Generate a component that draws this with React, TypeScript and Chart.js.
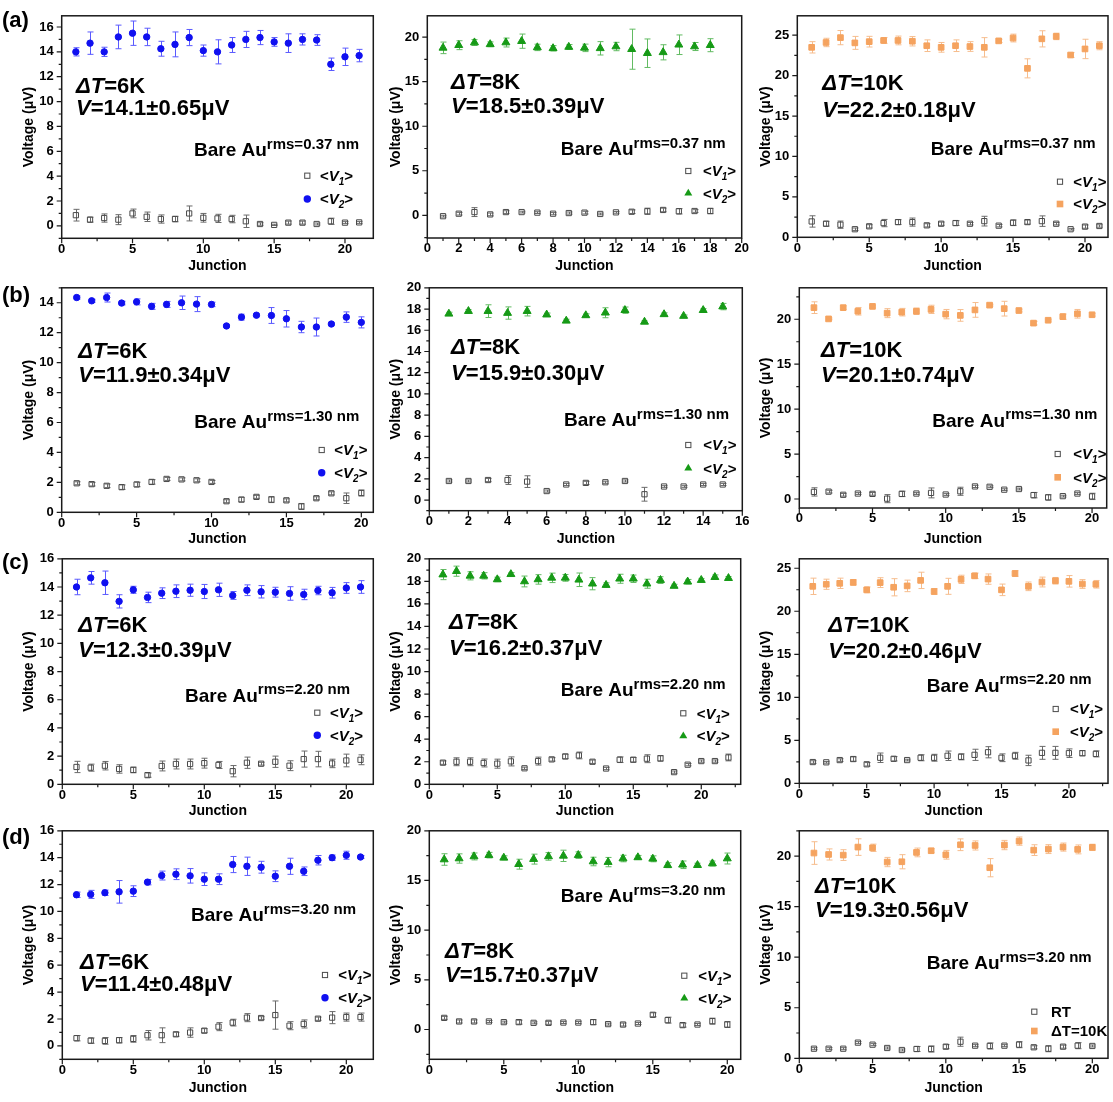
import React, { useEffect, useRef } from 'react';
import { Chart, registerables } from 'chart.js';

Chart.register(...registerables);

const FONT = "'Liberation Sans', Arial, Helvetica, sans-serif";

// ---------------- tick labels ----------------
const xTicksBy5 = [0, 5, 10, 15, 20];
const xTicksBy2To20 = [0, 2, 4, 6, 8, 10, 12, 14, 16, 18, 20];
const xTicksBy2To16 = [0, 2, 4, 6, 8, 10, 12, 14, 16];
const yTicksBy2To16 = [0, 2, 4, 6, 8, 10, 12, 14, 16];
const yTicksBy2To14 = [0, 2, 4, 6, 8, 10, 12, 14];
const yTicksBy2To20 = [0, 2, 4, 6, 8, 10, 12, 14, 16, 18, 20];
const yTicksBy5To20 = [0, 5, 10, 15, 20];
const yTicksBy5To25 = [0, 5, 10, 15, 20, 25];

// ---------------- data: row (a), rms = 0.37 nm ----------------
const a1V1 = [0.86, 0.5, 0.63, 0.5, 1.0, 0.73, 0.55, 0.55, 1.0, 0.65, 0.6, 0.55, 0.37, 0.15, 0.08, 0.26, 0.26, 0.15, 0.37, 0.26, 0.28];
const a1E1 = [0.47, 0.2, 0.33, 0.4, 0.35, 0.38, 0.33, 0.22, 0.6, 0.35, 0.33, 0.3, 0.5, 0.1, 0.05, 0.12, 0.12, 0.08, 0.25, 0.08, 0.08];
const a1V2 = [14.0, 14.7, 14.0, 15.2, 15.5, 15.2, 14.25, 14.6, 15.15, 14.1, 14.0, 14.55, 15.0, 15.15, 14.8, 14.7, 15.0, 14.95, 13.0, 13.6, 13.7];
const a1E2 = [0.33, 0.9, 0.37, 0.95, 0.98, 0.7, 0.6, 1.0, 0.65, 0.45, 0.97, 0.6, 0.65, 0.57, 0.35, 0.75, 0.45, 0.43, 0.5, 0.7, 0.5];

const a2V1 = [-0.1, 0.18, 0.36, 0.1, 0.36, 0.36, 0.3, 0.18, 0.25, 0.3, 0.15, 0.33, 0.4, 0.45, 0.6, 0.45, 0.48, 0.48];
const a2E1 = [0.1, 0.15, 0.5, 0.15, 0.15, 0.1, 0.1, 0.12, 0.12, 0.15, 0.1, 0.1, 0.2, 0.35, 0.2, 0.3, 0.15, 0.3];
const a2V2 = [18.8, 19.1, 19.4, 19.2, 19.4, 19.55, 18.85, 18.75, 18.9, 18.8, 18.75, 18.95, 18.65, 18.2, 18.3, 19.15, 18.95, 19.1];
const a2E2 = [0.65, 0.5, 0.33, 0.27, 0.5, 0.8, 0.36, 0.3, 0.27, 0.42, 0.75, 0.47, 2.25, 1.6, 0.85, 1.1, 0.45, 0.73];

const a3V1 = [1.96, 1.68, 1.56, 1.0, 1.36, 1.76, 1.88, 1.88, 1.48, 1.68, 1.76, 1.68, 2.0, 1.44, 1.8, 1.88, 2.0, 1.68, 1.0, 1.32, 1.4];
const a3E1 = [0.7, 0.3, 0.45, 0.15, 0.2, 0.45, 0.3, 0.5, 0.2, 0.2, 0.3, 0.15, 0.6, 0.15, 0.35, 0.25, 0.65, 0.15, 0.1, 0.2, 0.15];
const a3V2 = [23.5, 24.1, 24.7, 24.05, 24.2, 24.35, 24.35, 24.25, 23.7, 23.5, 23.7, 23.6, 23.5, 24.3, 24.65, 20.9, 24.55, 24.85, 22.55, 23.3, 23.7];
const a3E2 = [0.7, 0.52, 0.88, 0.8, 0.66, 0.36, 0.54, 0.58, 0.72, 0.6, 0.72, 0.6, 1.2, 0.2, 0.48, 1.18, 1.0, 0.4, 0.3, 1.2, 0.5];

// ---------------- data: row (b), rms = 1.30 nm ----------------
const b1V1 = [1.94, 1.88, 1.77, 1.68, 1.86, 2.03, 2.23, 2.2, 2.14, 2.03, 0.74, 0.85, 1.03, 0.85, 0.8, 0.39, 0.94, 1.27, 0.94, 1.29];
const b1E1 = [0.1, 0.12, 0.12, 0.15, 0.15, 0.15, 0.1, 0.1, 0.1, 0.1, 0.1, 0.15, 0.1, 0.2, 0.1, 0.2, 0.1, 0.1, 0.35, 0.2];
const b1V2 = [14.35, 14.13, 14.35, 13.98, 14.06, 13.76, 13.89, 14.0, 13.91, 13.89, 12.45, 13.04, 13.17, 13.15, 12.93, 12.38, 12.38, 12.58, 13.04, 12.69];
const b1E2 = [0.1, 0.1, 0.3, 0.12, 0.2, 0.2, 0.2, 0.45, 0.5, 0.15, 0.1, 0.2, 0.1, 0.53, 0.55, 0.38, 0.6, 0.1, 0.35, 0.37];

const b2V1 = [1.8, 1.8, 1.89, 1.89, 1.74, 0.85, 1.47, 1.62, 1.68, 1.8, 0.55, 1.28, 1.28, 1.47, 1.47];
const b2E1 = [0.1, 0.1, 0.15, 0.42, 0.55, 0.1, 0.1, 0.15, 0.1, 0.1, 0.65, 0.08, 0.08, 0.1, 0.1];
const b2V2 = [17.55, 17.8, 17.8, 17.62, 17.8, 17.47, 16.89, 17.4, 17.65, 17.89, 16.79, 17.5, 17.34, 17.89, 18.23];
const b2E2 = [0.15, 0.15, 0.6, 0.58, 0.45, 0.15, 0.15, 0.15, 0.47, 0.3, 0.1, 0.15, 0.1, 0.15, 0.3];

const b3V1 = [0.79, 0.82, 0.47, 0.61, 0.57, 0.04, 0.57, 0.61, 0.68, 0.5, 0.86, 1.4, 1.36, 1.04, 1.11, 0.43, 0.18, 0.32, 0.61, 0.29];
const b3E1 = [0.46, 0.15, 0.15, 0.1, 0.15, 0.45, 0.3, 0.1, 0.55, 0.1, 0.45, 0.12, 0.1, 0.1, 0.1, 0.3, 0.3, 0.1, 0.1, 0.35];
const b3V2 = [21.29, 20.04, 21.29, 20.89, 21.43, 20.68, 20.79, 20.89, 21.1, 20.57, 20.43, 21.04, 21.57, 21.18, 20.97, 19.57, 19.89, 20.29, 20.61, 20.5];
const b3E2 = [0.65, 0.1, 0.2, 0.42, 0.1, 0.5, 0.42, 0.36, 0.46, 0.52, 0.65, 0.82, 0.1, 0.82, 0.15, 0.2, 0.1, 0.3, 0.48, 0.15];

// ---------------- data: row (c), rms = 2.20 nm ----------------
const c1V1 = [1.23, 1.18, 1.32, 1.09, 1.02, 0.65, 1.3, 1.44, 1.44, 1.5, 1.37, 0.93, 1.53, 1.46, 1.6, 1.32, 1.79, 1.79, 1.48, 1.69, 1.74];
const c1E1 = [0.4, 0.25, 0.3, 0.3, 0.2, 0.15, 0.35, 0.35, 0.35, 0.35, 0.25, 0.4, 0.4, 0.1, 0.4, 0.35, 0.57, 0.55, 0.3, 0.45, 0.35];
const c1V2 = [14.0, 14.65, 14.3, 12.98, 13.8, 13.26, 13.56, 13.7, 13.77, 13.68, 13.8, 13.4, 13.77, 13.66, 13.63, 13.54, 13.47, 13.75, 13.59, 13.93, 14.0];
const c1E2 = [0.55, 0.45, 0.83, 0.47, 0.25, 0.37, 0.38, 0.45, 0.43, 0.5, 0.47, 0.28, 0.38, 0.44, 0.35, 0.48, 0.37, 0.3, 0.38, 0.38, 0.45];

const c2V1 = [1.92, 2.0, 2.0, 1.89, 1.83, 2.03, 1.42, 2.06, 2.21, 2.47, 2.56, 2.0, 1.4, 2.18, 2.18, 2.27, 2.3, 1.08, 1.74, 2.06, 2.06, 2.38];
const c2E1 = [0.15, 0.35, 0.35, 0.35, 0.4, 0.4, 0.1, 0.35, 0.15, 0.2, 0.3, 0.15, 0.1, 0.25, 0.2, 0.35, 0.25, 0.1, 0.1, 0.1, 0.1, 0.3];
const c2V2 = [18.6, 18.9, 18.49, 18.49, 18.17, 18.63, 17.99, 18.17, 18.31, 18.31, 18.14, 17.79, 17.67, 18.23, 18.23, 17.79, 18.11, 17.59, 17.97, 18.11, 18.37, 18.28];
const c2E2 = [0.45, 0.45, 0.36, 0.28, 0.2, 0.15, 0.48, 0.42, 0.42, 0.3, 0.6, 0.54, 0.2, 0.4, 0.33, 0.4, 0.3, 0.15, 0.2, 0.15, 0.2, 0.15];

const c3V1 = [2.47, 2.44, 2.7, 2.82, 2.21, 2.97, 2.85, 2.7, 2.97, 2.97, 3.2, 3.08, 3.31, 3.61, 2.97, 3.2, 2.66, 3.54, 3.54, 3.5, 3.5, 3.42];
const c3E1 = [0.15, 0.1, 0.15, 0.25, 0.2, 0.55, 0.25, 0.1, 0.35, 0.4, 0.55, 0.35, 0.65, 0.65, 0.45, 0.4, 0.6, 0.75, 0.75, 0.5, 0.3, 0.35];
const c3V2 = [22.9, 23.14, 23.25, 23.36, 22.49, 23.33, 22.79, 22.95, 23.59, 22.3, 22.9, 23.71, 24.12, 23.74, 22.49, 24.39, 22.9, 23.4, 23.55, 23.48, 23.17, 23.14];
const c3E2 = [0.95, 0.59, 0.6, 0.32, 0.34, 0.57, 1.0, 0.67, 0.95, 0.34, 0.93, 0.48, 0.32, 0.6, 0.67, 0.34, 0.5, 0.57, 0.38, 0.67, 0.51, 0.44];

// ---------------- data: row (d), rms = 3.20 nm ----------------
const d1V1 = [0.57, 0.39, 0.37, 0.42, 0.52, 0.79, 0.79, 0.86, 0.99, 1.13, 1.43, 1.73, 2.1, 2.07, 2.29, 1.5, 1.63, 2.02, 2.1, 2.14, 2.14];
const d1E1 = [0.2, 0.2, 0.25, 0.2, 0.25, 0.35, 0.55, 0.15, 0.35, 0.15, 0.3, 0.25, 0.3, 0.1, 1.05, 0.3, 0.3, 0.12, 0.45, 0.3, 0.3];
const d1V2 = [11.24, 11.27, 11.39, 11.46, 11.51, 12.18, 12.67, 12.77, 12.65, 12.4, 12.4, 13.49, 13.36, 13.29, 12.62, 13.36, 12.99, 13.81, 14.0, 14.18, 14.05];
const d1E2 = [0.2, 0.3, 0.2, 0.84, 0.4, 0.2, 0.33, 0.4, 0.54, 0.47, 0.4, 0.6, 0.68, 0.44, 0.4, 0.6, 0.32, 0.35, 0.2, 0.3, 0.1];

const d2V1 = [1.17, 0.81, 0.81, 0.81, 0.74, 0.74, 0.67, 0.67, 0.7, 0.7, 0.74, 0.54, 0.5, 0.6, 1.48, 0.94, 0.44, 0.5, 0.84, 0.5];
const d2E1 = [0.15, 0.15, 0.15, 0.1, 0.1, 0.2, 0.1, 0.15, 0.1, 0.1, 0.25, 0.1, 0.15, 0.1, 0.2, 0.3, 0.2, 0.1, 0.3, 0.3];
const d2V2 = [17.11, 17.21, 17.42, 17.55, 17.28, 16.64, 17.15, 17.42, 17.48, 17.55, 16.91, 16.85, 17.21, 17.32, 17.18, 16.54, 16.58, 16.54, 16.71, 17.21];
const d2E2 = [0.58, 0.47, 0.35, 0.28, 0.2, 0.5, 0.5, 0.38, 0.57, 0.33, 0.43, 0.47, 0.33, 0.2, 0.3, 0.25, 0.38, 0.2, 0.25, 0.55];

const d3V1 = [0.95, 0.95, 0.95, 1.55, 1.35, 1.02, 0.82, 0.92, 0.92, 1.15, 1.64, 1.25, 1.22, 1.25, 1.35, 1.09, 0.95, 1.15, 1.25, 1.22];
const d3E1 = [0.1, 0.1, 0.1, 0.1, 0.1, 0.1, 0.1, 0.25, 0.3, 0.2, 0.45, 0.1, 0.3, 0.1, 0.3, 0.15, 0.3, 0.15, 0.3, 0.1];
const d3V2 = [20.3, 20.16, 20.1, 20.89, 20.82, 19.41, 19.44, 20.36, 20.53, 20.13, 21.12, 21.05, 18.85, 21.09, 21.48, 20.59, 20.69, 20.89, 20.66, 20.86];
const d3E2 = [1.12, 0.55, 0.53, 0.82, 0.36, 0.46, 0.7, 0.43, 0.2, 0.43, 0.58, 0.45, 0.9, 0.46, 0.41, 0.53, 0.44, 0.4, 0.44, 0.31];

// ---------------- styling ----------------
type Kind = 'circle' | 'triangle' | 'rect';
const KIND_STYLE: Record<Kind, { color: string; err: string; radius: number }> = {
  circle: { color: '#1010f0', err: '#5a5aff', radius: 3.2 },
  triangle: { color: '#169a16', err: '#62bb62', radius: 4.6 },
  rect: { color: '#f5a35f', err: '#f6bd8e', radius: 4.0 },
};
const V1_COLOR = '#4a4a4a';
const V1_ERR = '#6a6a6a';
const TICK_SIZE = 13;
const X_TITLE_SIZE = 14;
const Y_TITLE_SIZE = 14;
const ANNOT_SIZE = 22;

interface Spec {
  cell: [number, number, number, number];
  plot: [number, number, number, number];
  yTitleX: number;
  xTitleY: number;
  xRange: [number, number];
  yRange: [number, number];
  xTicks: number[];
  yTicks: number[];
  v1: number[]; e1: number[]; v2: number[]; e2: number[];
  kind: Kind;
  dT: string; vText: string; rms: string;
  dTPos: [number, number]; vPos: [number, number]; barePos: [number, number];
  leg: [number, number, number, number];
  legendLabels?: [string, string];
  panelLabel?: [string, number, number];
}

const C1: [number, number] = [0, 378];
const C2: [number, number] = [374, 384];
const C3: [number, number] = [744, 369];
const RA: [number, number] = [0, 277];
const RB: [number, number] = [272, 275];
const RC: [number, number] = [543, 276];
const RD: [number, number] = [815, 287];
const cell = (c: [number, number], r: [number, number]): [number, number, number, number] => [c[0], r[0], c[1], r[1]];

const specs: Spec[] = [
  {
    cell: cell(C1, RA), plot: [61.7, 9.3, 375, 238.3], yTitleX: 29, xTitleY: 265.7,
    xRange: [0, 22], yRange: [-1.0, 16.9], xTicks: xTicksBy5, yTicks: yTicksBy2To16,
    v1: a1V1, e1: a1E1, v2: a1V2, e2: a1E2, kind: 'circle',
    dT: '6K', vText: '14.1±0.65μV', rms: '0.37', dTPos: [76, 92.7], vPos: [76, 115], barePos: [194, 156],
    leg: [307.3, 175.7, 199, 320], panelLabel: ['(a)', 2, 27],
  },
  {
    cell: cell(C2, RA), plot: [427.3, 9.3, 741.7, 238], yTitleX: 396, xTitleY: 265.7,
    xRange: [0, 20], yRange: [-2.55, 22.4], xTicks: xTicksBy2To20, yTicks: yTicksBy5To20,
    v1: a2V1, e1: a2E1, v2: a2V2, e2: a2E2, kind: 'triangle',
    dT: '8K', vText: '18.5±0.39μV', rms: '0.37', dTPos: [451, 89.3], vPos: [451, 113.3], barePos: [560.7, 155.3],
    leg: [688.3, 171, 193.3, 703],
  },
  {
    cell: cell(C3, RA), plot: [797.3, 9.3, 1110.7, 237.3], yTitleX: 766, xTitleY: 265.7,
    xRange: [0, 21.6], yRange: [0, 27.4], xTicks: xTicksBy5, yTicks: yTicksBy5To25,
    v1: a3V1, e1: a3E1, v2: a3V2, e2: a3E2, kind: 'rect',
    dT: '10K', vText: '22.2±0.18μV', rms: '0.37', dTPos: [822.3, 90], vPos: [822.3, 116.7], barePos: [930.7, 155.3],
    leg: [1060, 181.7, 204, 1073.3],
  },
  {
    cell: cell(C1, RB), plot: [61.7, 283.3, 374, 512.3], yTitleX: 29, xTitleY: 539.5,
    xRange: [0, 20.8], yRange: [0, 15], xTicks: xTicksBy5, yTicks: yTicksBy2To14,
    v1: b1V1, e1: b1E1, v2: b1V2, e2: b1E2, kind: 'circle',
    dT: '6K', vText: '11.9±0.34μV', rms: '1.30', dTPos: [78.3, 358.3], vPos: [78.3, 381.7], barePos: [194.3, 428],
    leg: [321.7, 450, 472.7, 334.3], panelLabel: ['(b)', 2, 301.5],
  },
  {
    cell: cell(C2, RB), plot: [429.3, 281.7, 742.3, 510.7], yTitleX: 396, xTitleY: 539.5,
    xRange: [0, 16], yRange: [-1, 20], xTicks: xTicksBy2To16, yTicks: yTicksBy2To20,
    v1: b2V1, e1: b2E1, v2: b2V2, e2: b2E2, kind: 'triangle',
    dT: '8K', vText: '15.9±0.30μV', rms: '1.30', dTPos: [451, 354], vPos: [451, 380], barePos: [564, 426],
    leg: [688.3, 445, 468.3, 703.3],
  },
  {
    cell: cell(C3, RB), plot: [799.3, 280, 1106.7, 508], yTitleX: 766, xTitleY: 539.5,
    xRange: [0, 21], yRange: [-1, 23.5], xTicks: xTicksBy5, yTicks: yTicksBy5To20,
    v1: b3V1, e1: b3E1, v2: b3V2, e2: b3E2, kind: 'rect',
    dT: '10K', vText: '20.1±0.74μV', rms: '1.30', dTPos: [821, 357.3], vPos: [821, 381.7], barePos: [932.3, 426.7],
    leg: [1057.7, 454, 477.3, 1073.3],
  },
  {
    cell: cell(C1, RC), plot: [62.3, 554.3, 375, 784.3], yTitleX: 29, xTitleY: 811,
    xRange: [0, 21.9], yRange: [0, 16], xTicks: xTicksBy5, yTicks: yTicksBy2To16,
    v1: c1V1, e1: c1E1, v2: c1V2, e2: c1E2, kind: 'circle',
    dT: '6K', vText: '12.3±0.39μV', rms: '2.20', dTPos: [78.3, 631.7], vPos: [78.3, 656.7], barePos: [185, 701.7],
    leg: [317.3, 712.7, 735.3, 330], panelLabel: ['(c)', 2, 568.5],
  },
  {
    cell: cell(C2, RC), plot: [429.3, 555, 740.7, 784.3], yTitleX: 396, xTitleY: 811,
    xRange: [0, 22.9], yRange: [0, 20], xTicks: xTicksBy5, yTicks: yTicksBy2To20,
    v1: c2V1, e1: c2E1, v2: c2V2, e2: c2E2, kind: 'triangle',
    dT: '8K', vText: '16.2±0.37μV', rms: '2.20', dTPos: [449, 629.3], vPos: [449, 655], barePos: [560.7, 696],
    leg: [683.3, 713.3, 736, 696.7],
  },
  {
    cell: cell(C3, RC), plot: [799.3, 555, 1110, 783.3], yTitleX: 766, xTitleY: 811,
    xRange: [0, 22.9], yRange: [0, 26.1], xTicks: xTicksBy5, yTicks: yTicksBy5To25,
    v1: c3V1, e1: c3E1, v2: c3V2, e2: c3E2, kind: 'rect',
    dT: '10K', vText: '20.2±0.46μV', rms: '2.20', dTPos: [828.3, 631.7], vPos: [828.3, 658.3], barePos: [926.7, 691.7],
    leg: [1055.7, 709, 731.7, 1070],
  },
  {
    cell: cell(C1, RD), plot: [62.3, 830, 375, 1059.3], yTitleX: 29, xTitleY: 1087.7,
    xRange: [0, 21.9], yRange: [-1, 16], xTicks: xTicksBy5, yTicks: yTicksBy2To16,
    v1: d1V1, e1: d1E1, v2: d1V2, e2: d1E2, kind: 'circle',
    dT: '6K', vText: '11.4±0.48μV', rms: '3.20', dTPos: [80, 969], vPos: [80, 991], barePos: [191, 921],
    leg: [325, 975, 997.7, 338.3], panelLabel: ['(d)', 2, 844],
  },
  {
    cell: cell(C2, RD), plot: [429.3, 830, 740.7, 1059.3], yTitleX: 396, xTitleY: 1087.7,
    xRange: [0, 20.9], yRange: [-3, 20], xTicks: xTicksBy5, yTicks: yTicksBy5To20,
    v1: d2V1, e1: d2E1, v2: d2V2, e2: d2E2, kind: 'triangle',
    dT: '8K', vText: '15.7±0.37μV', rms: '3.20', dTPos: [445, 958.3], vPos: [445, 981.7], barePos: [560.7, 902.3],
    leg: [684.3, 975.7, 998.3, 698.3],
  },
  {
    cell: cell(C3, RD), plot: [799.3, 830, 1110.7, 1058.3], yTitleX: 766, xTitleY: 1087.7,
    xRange: [0, 21.07], yRange: [0, 22.5], xTicks: xTicksBy5, yTicks: yTicksBy5To20,
    v1: d3V1, e1: d3E1, v2: d3V2, e2: d3E2, kind: 'rect',
    dT: '10K', vText: '19.3±0.56μV', rms: '3.20', dTPos: [815, 892.7], vPos: [815, 916.7], barePos: [926.7, 969],
    leg: [1034.3, 1011.7, 1031, 1051], legendLabels: ['RT', 'ΔT=10K'],
  },
];

type Run = { t: string; size: number; italic?: boolean; dy?: number };
function drawRuns(ctx: CanvasRenderingContext2D, x: number, y: number, runs: Run[]) {
  let cx = x;
  for (const r of runs) {
    ctx.font = `${r.italic ? 'italic ' : ''}bold ${r.size}px ${FONT}`;
    ctx.fillText(r.t, cx, y + (r.dy || 0));
    cx += ctx.measureText(r.t).width;
  }
}

function minorValues(major: number[], min: number, max: number): number[] {
  const step = major[1] - major[0];
  const half = step / 2;
  const out: number[] = [];
  const k0 = Math.ceil((min - major[0]) / half - 1e-9);
  const k1 = Math.floor((max - major[0]) / half + 1e-9);
  for (let k = k0; k <= k1; k++) {
    if (Math.abs(k % 2) === 1) out.push(major[0] + k * half);
  }
  return out;
}

function drawMarker(ctx: CanvasRenderingContext2D, kind: Kind | 'open', x: number, y: number) {
  ctx.save();
  if (kind === 'open') {
    ctx.strokeStyle = V1_COLOR;
    ctx.lineWidth = 1;
    ctx.strokeRect(x - 2.6, y - 2.6, 5.2, 5.2);
  } else {
    const st = KIND_STYLE[kind];
    ctx.fillStyle = st.color;
    ctx.beginPath();
    if (kind === 'circle') {
      ctx.arc(x, y, st.radius + 0.5, 0, Math.PI * 2);
    } else if (kind === 'triangle') {
      const r = st.radius;
      ctx.moveTo(x, y - r);
      ctx.lineTo(x + r * 0.866, y + r * 0.5);
      ctx.lineTo(x - r * 0.866, y + r * 0.5);
      ctx.closePath();
    } else {
      const s = st.radius * Math.SQRT1_2 + 0.5;
      ctx.rect(x - s, y - s, 2 * s, 2 * s);
    }
    ctx.fill();
  }
  ctx.restore();
}

function makeDecor(p: Spec) {
  return {
    id: 'decor',
    beforeDatasetsDraw(chart: any) {
      const ctx: CanvasRenderingContext2D = chart.ctx;
      const xs = chart.scales.x;
      const ys = chart.scales.y;
      ctx.save();
      chart.data.datasets.forEach((ds: any) => {
        ctx.strokeStyle = ds.errColor;
        ctx.lineWidth = 1;
        ds.data.forEach((pt: any, i: number) => {
          const e = ds.errors[i];
          const x = Math.round(xs.getPixelForValue(pt.x)) + 0.5;
          const y1 = ys.getPixelForValue(pt.y + e);
          const y2 = ys.getPixelForValue(pt.y - e);
          ctx.beginPath();
          ctx.moveTo(x, y1);
          ctx.lineTo(x, y2);
          ctx.moveTo(x - 3, y1);
          ctx.lineTo(x + 3, y1);
          ctx.moveTo(x - 3, y2);
          ctx.lineTo(x + 3, y2);
          ctx.stroke();
        });
      });
      ctx.restore();
    },
    afterDraw(chart: any) {
      const ctx: CanvasRenderingContext2D = chart.ctx;
      const { left, top, right, bottom } = chart.chartArea;
      const xs = chart.scales.x;
      const ys = chart.scales.y;
      const ox = p.cell[0];
      const oy = p.cell[1];
      ctx.save();
      ctx.strokeStyle = '#1a1a1a';
      ctx.lineWidth = 1.5;
      ctx.strokeRect(left, top, right - left, bottom - top);
      ctx.lineWidth = 1.2;
      ctx.beginPath();
      const xMinor = minorValues(p.xTicks, p.xRange[0], p.xRange[1]);
      const yMinor = minorValues(p.yTicks, p.yRange[0], p.yRange[1]);
      const xTick = (v: number, len: number) => {
        if (v < p.xRange[0] - 1e-9 || v > p.xRange[1] + 1e-9) return;
        const x = xs.getPixelForValue(v);
        ctx.moveTo(x, bottom);
        ctx.lineTo(x, bottom + len);
      };
      const yTick = (v: number, len: number) => {
        if (v < p.yRange[0] - 1e-9 || v > p.yRange[1] + 1e-9) return;
        const y = ys.getPixelForValue(v);
        ctx.moveTo(left, y);
        ctx.lineTo(left - len, y);
      };
      p.xTicks.forEach((v) => xTick(v, 5));
      xMinor.forEach((v) => xTick(v, 3));
      p.yTicks.forEach((v) => yTick(v, 5));
      yMinor.forEach((v) => yTick(v, 3));
      ctx.stroke();

      ctx.fillStyle = '#000';
      ctx.textAlign = 'left';
      ctx.textBaseline = 'alphabetic';
      drawRuns(ctx, p.dTPos[0] - ox, p.dTPos[1] - oy, [
        { t: 'ΔT', size: ANNOT_SIZE, italic: true },
        { t: '=' + p.dT, size: ANNOT_SIZE },
      ]);
      drawRuns(ctx, p.vPos[0] - ox, p.vPos[1] - oy, [
        { t: 'V', size: ANNOT_SIZE, italic: true },
        { t: '=' + p.vText, size: ANNOT_SIZE },
      ]);
      drawRuns(ctx, p.barePos[0] - ox, p.barePos[1] - oy, [
        { t: 'Bare Au', size: 19 },
        { t: 'rms=' + p.rms + ' nm', size: 15, dy: -7.5 },
      ]);

      const [mx, ly1, ly2, tx] = p.leg;
      drawMarker(ctx, 'open', mx - ox, ly1 - oy);
      drawMarker(ctx, p.kind, mx - ox, ly2 - oy);
      ctx.fillStyle = '#000';
      if (p.legendLabels) {
        drawRuns(ctx, tx - ox, ly1 - oy + 5.3, [{ t: p.legendLabels[0], size: 15 }]);
        drawRuns(ctx, tx - ox, ly2 - oy + 5.3, [{ t: p.legendLabels[1], size: 15 }]);
      } else {
        drawRuns(ctx, tx - ox, ly1 - oy + 5.3, [
          { t: '<', size: 15 }, { t: 'V', size: 15, italic: true }, { t: '1', size: 10, italic: true, dy: 4 }, { t: '>', size: 15 },
        ]);
        drawRuns(ctx, tx - ox, ly2 - oy + 5.3, [
          { t: '<', size: 15 }, { t: 'V', size: 15, italic: true }, { t: '2', size: 10, italic: true, dy: 4 }, { t: '>', size: 15 },
        ]);
      }

      if (p.panelLabel) {
        drawRuns(ctx, p.panelLabel[1] - ox, p.panelLabel[2] - oy, [{ t: p.panelLabel[0], size: 22 }]);
      }
      ctx.restore();
    },
  };
}

function buildChart(canvas: HTMLCanvasElement, p: Spec) {
  const [cx, cy, cw, ch] = p.cell;
  const [l, t, r, b] = p.plot;
  const yScaleLeft = p.yTitleX - 0.6 * Y_TITLE_SIZE;
  const xScaleBottom = p.xTitleY + 0.6 * X_TITLE_SIZE;
  const padding = {
    left: yScaleLeft - cx,
    top: t - cy,
    right: cx + cw - r,
    bottom: cy + ch - xScaleBottom,
  };
  const yW = l - yScaleLeft;
  const xH = xScaleBottom - b;
  const st = KIND_STYLE[p.kind];
  const tickFont = { family: FONT, size: TICK_SIZE, weight: 'bold' as const };

  return new Chart(canvas, {
    type: 'scatter',
    data: {
      datasets: [
        {
          label: 'V1',
          data: p.v1.map((y, i) => ({ x: i + 1, y })),
          pointStyle: 'rect',
          pointRadius: 3.7,
          pointHoverRadius: 3.7,
          borderWidth: 1,
          borderColor: V1_COLOR,
          backgroundColor: 'rgba(255,255,255,0)',
          showLine: false,
          errors: p.e1,
          errColor: V1_ERR,
        } as any,
        {
          label: 'V2',
          data: p.v2.map((y, i) => ({ x: i + 1, y })),
          pointStyle: p.kind,
          pointRadius: st.radius,
          pointHoverRadius: st.radius,
          borderWidth: 1,
          borderColor: st.color,
          backgroundColor: st.color,
          showLine: false,
          errors: p.e2,
          errColor: st.err,
        } as any,
      ],
    },
    options: {
      responsive: false,
      maintainAspectRatio: false,
      animation: false,
      events: [],
      layout: { padding },
      plugins: { legend: { display: false }, tooltip: { enabled: false } },
      scales: {
        x: {
          type: 'linear',
          min: p.xRange[0],
          max: p.xRange[1],
          grid: { display: false, drawTicks: false },
          border: { display: false },
          ticks: { font: tickFont, color: '#000', padding: 3, maxRotation: 0, autoSkip: false },
          title: { display: true, text: 'Junction', color: '#000', padding: 0, font: { family: FONT, size: X_TITLE_SIZE, weight: 'bold' } },
          afterBuildTicks: (s: any) => { s.ticks = p.xTicks.map((v) => ({ value: v })); },
          afterFit: (s: any) => { s.height = xH; },
        },
        y: {
          type: 'linear',
          min: p.yRange[0],
          max: p.yRange[1],
          grid: { display: false, drawTicks: false },
          border: { display: false },
          ticks: { font: tickFont, color: '#000', padding: 8, autoSkip: false },
          title: { display: true, text: 'Voltage (μV)', color: '#000', padding: 0, font: { family: FONT, size: Y_TITLE_SIZE, weight: 'bold' } },
          afterBuildTicks: (s: any) => { s.ticks = p.yTicks.map((v) => ({ value: v })); },
          afterFit: (s: any) => { s.width = yW; },
        },
      },
    } as any,
    plugins: [makeDecor(p)],
  });
}

function Panel({ spec }: { spec: Spec }) {
  const ref = useRef<HTMLCanvasElement>(null);
  useEffect(() => {
    if (!ref.current) return;
    const chart = buildChart(ref.current, spec);
    return () => chart.destroy();
  }, [spec]);
  const [cx, cy, cw, ch] = spec.cell;
  return (
    <canvas
      ref={ref}
      width={cw}
      height={ch}
      style={{ position: 'absolute', left: cx, top: cy, width: cw, height: ch }}
    />
  );
}

export default function App() {
  return (
    <div style={{ position: 'absolute', left: 0, top: 0, width: 1113, height: 1102, background: '#fff', overflow: 'hidden' }}>
      {specs.map((s, i) => (
        <Panel key={i} spec={s} />
      ))}
    </div>
  );
}
